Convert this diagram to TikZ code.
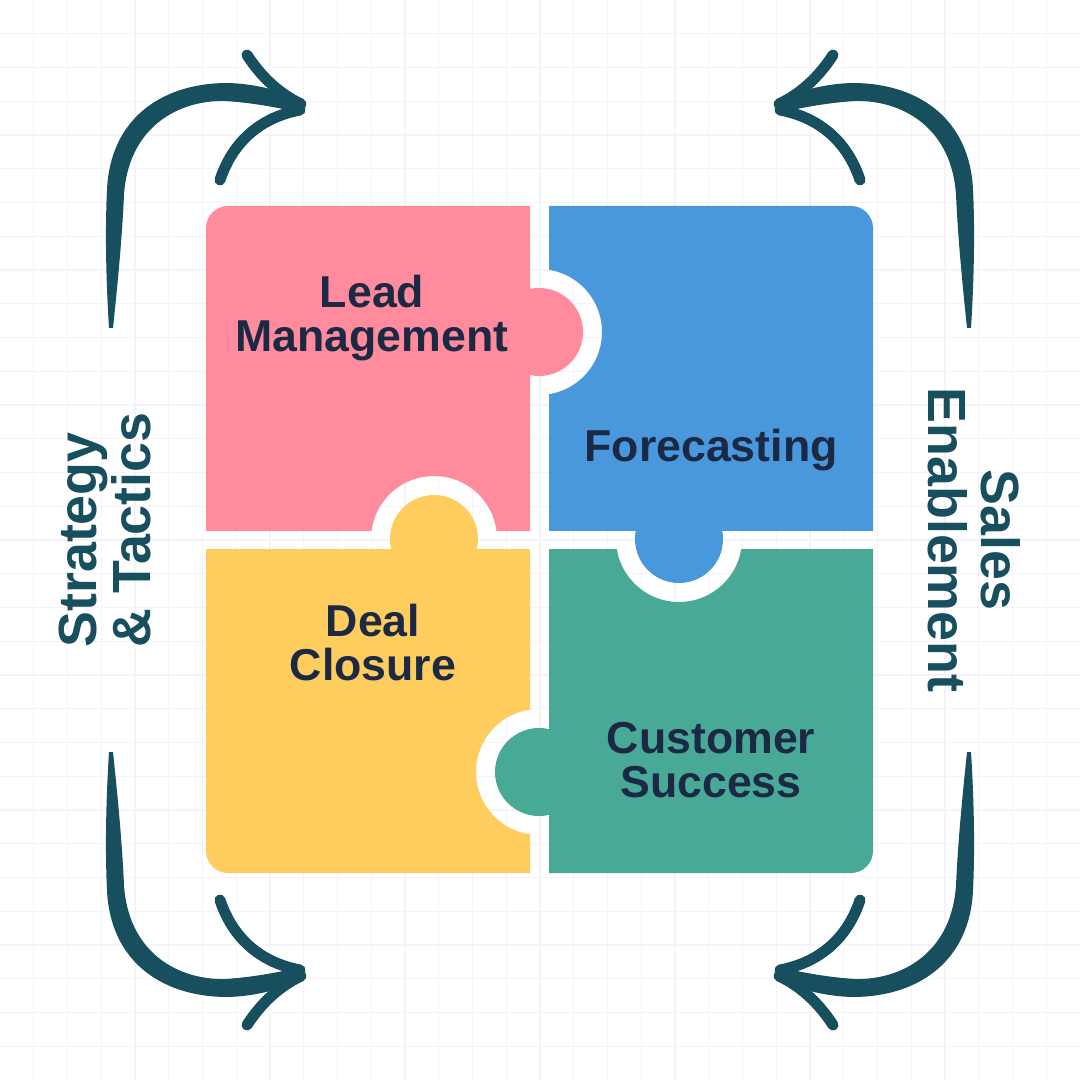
\documentclass[tikz,border=0pt]{standalone}
\usepackage{fontspec}
\setmainfont{Liberation Sans}
\usetikzlibrary{positioning}
\definecolor{pzpink}{HTML}{FF8B9C}
\definecolor{pzblue}{HTML}{4898DB}
\definecolor{pzyellow}{HTML}{FFCC5E}
\definecolor{pzgreen}{HTML}{48AA96}
\definecolor{pzink}{HTML}{1C2945}
\definecolor{pzteal}{HTML}{174F5E}
\definecolor{pzgrid}{HTML}{F4F4F8}

\begin{document}
\begin{tikzpicture}[
    x=0.01cm, y=-0.01cm,
    gridline/.style={draw=pzgrid, line width=0.012cm},
    piecetext/.style={font=\fontsize{12.7}{12.5}\selectfont\bfseries, text=pzink, align=center},
    sidetext/.style={font=\fontsize{15.3}{15.1}\selectfont\bfseries, text=pzteal},
    barb/.style={draw=pzteal, line width=0.11cm, line cap=round},
    curlarrow/.pic={
      \fill[pzteal] (-431,-212) .. controls (-434,-260) and (-435,-310) .. (-433,-350)
        .. controls (-430,-420) and (-380,-456) .. (-315,-457)
        .. controls (-285,-457) and (-255,-448) .. (-234,-438) -- (-239,-427)
        .. controls (-260,-432) and (-285,-437) .. (-315,-439)
        .. controls (-365,-440) and (-412,-410) .. (-416,-345)
        .. controls (-418,-300) and (-423,-250) .. (-427,-212) -- cycle;
      \draw[barb] (-293,-485) .. controls (-278,-462) and (-260,-446) .. (-239,-436);
      \draw[barb] (-240,-430) .. controls (-272,-424) and (-305,-405) .. (-320,-360);
    }
  ]
  \useasboundingbox (0,0) rectangle (1080,1080);
  \fill[white] (0,0) rectangle (1080,1080);
  \foreach \g in {1,...,31} {
    \draw[gridline] (\g*33.75,0) -- (\g*33.75,1080);
    \draw[gridline] (0,\g*33.75) -- (1080,\g*33.75);
  }

  % lead management piece
  \begin{scope}
    \clip (206,206) rectangle (530,530);
    \fill[pzpink, even odd rule, rounded corners=0.22cm] (206,206) rectangle (854,854) (434,539) circle (63);
  \end{scope}
  \fill[pzpink] (539,332) circle (44);

  % forecasting piece
  \begin{scope}
    \clip (549,206) rectangle (873,530);
    \fill[pzblue, even odd rule, rounded corners=0.22cm] (873,206) rectangle (225,854) (539,332) circle (63);
  \end{scope}
  \fill[pzblue] (679,539) circle (44);

  % customer success piece
  \begin{scope}
    \clip (549,549) rectangle (873,873);
    \fill[pzgreen, even odd rule, rounded corners=0.22cm] (873,873) rectangle (225,225) (679,539) circle (63);
  \end{scope}
  \fill[pzgreen] (539,772) circle (44);

  % deal closure piece
  \begin{scope}
    \clip (206,549) rectangle (530,873);
    \fill[pzyellow, even odd rule, rounded corners=0.22cm] (206,873) rectangle (854,225) (539,772) circle (63);
  \end{scope}
  \fill[pzyellow] (434,539) circle (44);

  \node[piecetext] (lead) at (372,318) {Lead\\Management};
  \node[piecetext] (forecast) at (711,450) {Forecasting};
  \node[piecetext] (deal) at (373,643) {Deal\\Closure};
  \node[piecetext] (success) at (711,760) {Customer\\Success};

  \node[sidetext, rotate=90, align=left] (strategy) at (105,530) {Strategy\\\& Tactics};
  \node[sidetext, rotate=-90, align=center] (sales) at (974,540) {Sales\\Enablement};

  % the four turning arrows
  \coordinate (mid) at (540,540);
  \pic at (mid) {curlarrow};
  \pic[xscale=-1] at (mid) {curlarrow};
  \pic[yscale=-1] at (mid) {curlarrow};
  \pic[scale=-1] at (mid) {curlarrow};
\end{tikzpicture}
\end{document}
